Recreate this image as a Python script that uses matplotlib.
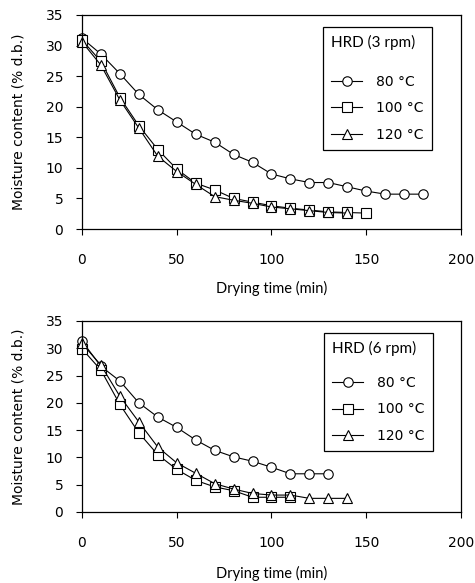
import matplotlib
matplotlib.use("Agg")
import matplotlib.pyplot as plt

# drying curves, HRD at 3 rpm (top) and 6 rpm (bottom)
time_3_80 = [0, 10, 20, 30, 40, 50, 60, 70, 80, 90, 100, 110, 120, 130, 140, 150, 160, 170, 180]
mc_3_80 = [31.2, 28.6, 25.4, 22.0, 19.5, 17.5, 15.5, 14.2, 12.2, 10.9, 9.0, 8.2, 7.6, 7.6, 6.9, 6.2, 5.7, 5.7, 5.7]
time_3_100 = [0, 10, 20, 30, 40, 50, 60, 70, 80, 90, 100, 110, 120, 130, 140, 150]
mc_3_100 = [30.9, 27.4, 21.5, 16.9, 13.0, 9.8, 7.5, 6.4, 5.0, 4.4, 3.8, 3.4, 3.1, 2.8, 2.7, 2.6]
time_3_120 = [0, 10, 20, 30, 40, 50, 60, 70, 80, 90, 100, 110, 120, 130, 140]
mc_3_120 = [30.6, 26.8, 21.1, 16.5, 11.9, 9.4, 7.3, 5.3, 4.7, 4.2, 3.6, 3.3, 3.0, 2.7, 2.6]

time_6_80 = [0, 10, 20, 30, 40, 50, 60, 70, 80, 90, 100, 110, 120, 130]
mc_6_80 = [31.3, 26.7, 24.0, 20.0, 17.4, 15.5, 13.2, 11.3, 10.1, 9.3, 8.2, 7.0, 7.0, 7.0]
time_6_100 = [0, 10, 20, 30, 40, 50, 60, 70, 80, 90, 100, 110]
mc_6_100 = [29.9, 26.0, 19.7, 14.5, 10.5, 7.8, 5.8, 4.6, 3.9, 2.7, 2.7, 2.7]
time_6_120 = [0, 10, 20, 30, 40, 50, 60, 70, 80, 90, 100, 110, 120, 130, 140]
mc_6_120 = [30.9, 26.9, 21.2, 16.5, 11.9, 9.0, 7.1, 5.2, 4.2, 3.4, 3.1, 3.1, 2.5, 2.5, 2.5]

temp_labels = ["80 °C", "100 °C", "120 °C"]
markers = ["o", "s", "^"]
x_ticks = [0, 50, 100, 150, 200]
y_ticks = [0, 5, 10, 15, 20, 25, 30, 35]

TICK_FONT = "DejaVu Sans"
LABEL_FONT = "Lato"

fig = plt.figure(figsize=(4.75, 5.83), dpi=100)
ax_top = fig.add_axes([0.1726, 0.6072, 0.7979, 0.3671])
ax_bot = fig.add_axes([0.1726, 0.1218, 0.7979, 0.3276])

# axes, series, legend title, legend corner, xlabel y, gap under legend title (pt)
panels = [
    (ax_top, [(time_3_80, mc_3_80), (time_3_100, mc_3_100), (time_3_120, mc_3_120)],
     "HRD (3 rpm)", (0.636, 0.944), -0.243, 17.5),
    (ax_bot, [(time_6_80, mc_6_80), (time_6_100, mc_6_100), (time_6_120, mc_6_120)],
     "HRD (6 rpm)", (0.6385, 0.937), -0.283, 14.0),
]

for ax, series, title, leg_xy, xlab_y, title_gap in panels:
    for (t, mc), mk, lab in zip(series, markers, temp_labels):
        ax.plot(t, mc, marker=mk, color="black", lw=0.8, ms=6.8,
                mfc="white", mec="black", mew=0.8, label=lab, clip_on=False)
    ax.set_xlim(0, 200)
    ax.set_ylim(0, 35)
    ax.set_xticks(x_ticks)
    ax.set_yticks(y_ticks)
    for sp in ax.spines.values():
        sp.set_linewidth(0.9)
    ax.tick_params(axis="x", direction="out", length=4.5, width=0.8, pad=13,
                   labelsize=10)
    ax.tick_params(axis="y", direction="out", length=4.5, width=0.8, pad=9,
                   labelsize=10)
    for lbl in ax.get_xticklabels() + ax.get_yticklabels():
        lbl.set_fontfamily(TICK_FONT)
    ax.set_xlabel("Drying time (min)", fontsize=10.5, family=LABEL_FONT)
    ax.xaxis.set_label_coords(0.5, xlab_y)
    ax.set_ylabel("Moisture content (% d.b.)", fontsize=10, family=TICK_FONT)
    ax.yaxis.set_label_coords(-0.15, 0.5)

    leg = ax.legend(loc="upper left", bbox_to_anchor=leg_xy, borderaxespad=0,
                    title=title, alignment="left", numpoints=1,
                    handlelength=2.2, handletextpad=1.0, labelspacing=0.9,
                    borderpad=0.6, fancybox=False, edgecolor="black",
                    framealpha=1, prop={"family": TICK_FONT, "size": 10})
    leg.get_frame().set_linewidth(0.9)
    leg.get_title().set_fontfamily(LABEL_FONT)
    leg.get_title().set_fontsize(11)
    leg._legend_box.sep = title_gap

fig.savefig("out.png", dpi=100)
